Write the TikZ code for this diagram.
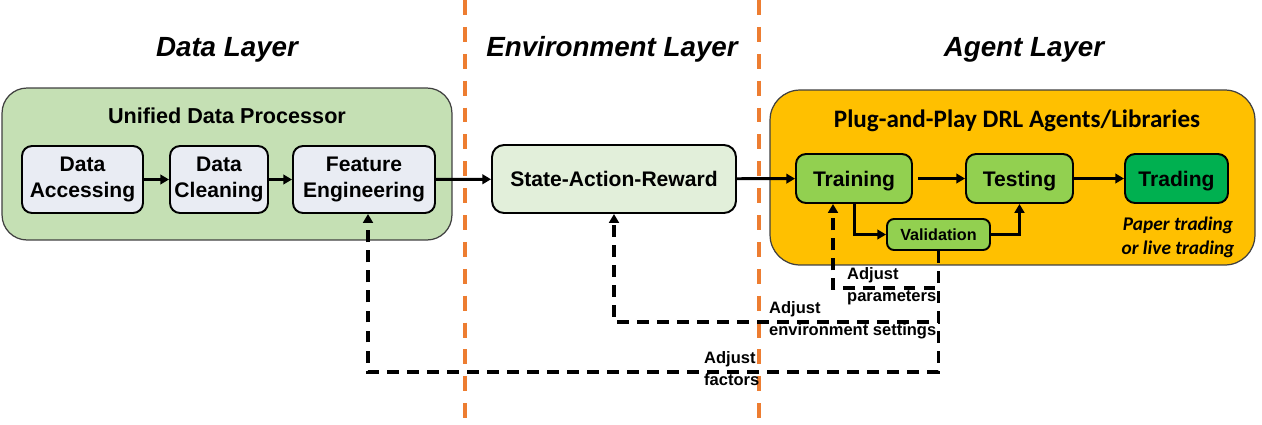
\documentclass[tikz,border=0pt]{standalone}
\usepackage{fontspec}
\setmainfont{Liberation Sans}
\newfontfamily\carlito{Carlito}
\usetikzlibrary{arrows.meta}
\definecolor{LayerOrange}{HTML}{ED7D31}
\definecolor{DataGreen}{HTML}{C5E0B4}
\definecolor{StepGray}{HTML}{E9ECF3}
\definecolor{EnvGreen}{HTML}{E2EFDA}
\definecolor{AgentGold}{HTML}{FFC000}
\definecolor{AgentGreen}{HTML}{92D050}
\definecolor{TradeGreen}{HTML}{00B050}

\begin{document}
\begin{tikzpicture}[x=0.02cm,y=-0.02cm,
  >={Triangle[length=5pt,width=5.5pt]},
  layertitle/.style={anchor=base,font=\fontsize{15.8}{19}\selectfont\bfseries\itshape},
  panel/.style={draw=black!75,line width=0.7pt,rounded corners=0.5cm},
  stepbox/.style={draw,line width=1.1pt,rounded corners=0.2cm,align=center,inner sep=2pt,
    font=\fontsize{12}{14.7}\selectfont\bfseries},
  oneline/.style={text depth=0pt},
  flow/.style={->,line width=1.7pt},
  feedback/.style={->,line width=1.9pt,dash pattern=on 6.8pt off 4.6pt},
  adjust/.style={anchor=west,align=left,font=\fontsize{9.4}{12.5}\selectfont\bfseries},
  layerline/.style={LayerOrange,line width=2pt,dash pattern=on 8.5pt off 6.8pt}]
  \useasboundingbox (0,0) rectangle (1262,424);

  % layers
  \node[layertitle] (tData) at (227,56) {Data Layer};
  \node[layertitle] (tEnv) at (612,56) {Environment Layer};
  \node[layertitle] (tAgent) at (1024,56) {Agent Layer};
  \draw[layerline] (465,0) -- (465,424);
  \draw[layerline] (759,0) -- (759,424);

  % data layer
  \node[panel,fill=DataGreen,minimum width=9cm,minimum height=3.04cm] (dataPanel) at (227,164) {};
  \node[anchor=base,font=\fontsize{12.3}{14}\selectfont\bfseries] (udp) at (227,123) {Unified Data Processor};
  \node[stepbox,fill=StepGray,minimum width=2.42cm,minimum height=1.34cm] (access) at (82.5,179.5) {Data\\Accessing};
  \node[stepbox,fill=StepGray,minimum width=1.96cm,minimum height=1.34cm] (clean) at (219,179.5) {Data\\Cleaning};
  \node[stepbox,fill=StepGray,minimum width=2.84cm,minimum height=1.34cm] (feature) at (364,179.5) {Feature\\Engineering};

  % environment layer
  \node[stepbox,oneline,fill=EnvGreen,rounded corners=0.24cm,minimum width=4.88cm,minimum height=1.36cm] (sar) at (614,179) {State-Action-Reward};

  % agent layer
  \node[panel,fill=AgentGold,rounded corners=0.6cm,minimum width=9.7cm,minimum height=3.5cm] (agentPanel) at (1012.5,177.5) {};
  \node[anchor=base,font=\carlito\fontsize{14.3}{17}\selectfont\bfseries] (drl) at (1017,127) {Plug-and-Play DRL Agents/Libraries};
  \node[stepbox,oneline,fill=AgentGreen,minimum width=2.32cm,minimum height=0.98cm] (train) at (854,178.5) {Training};
  \node[stepbox,oneline,fill=AgentGreen,minimum width=2.14cm,minimum height=0.98cm] (test) at (1019.5,178.5) {Testing};
  \node[stepbox,oneline,fill=TradeGreen,minimum width=2.06cm,minimum height=0.98cm] (trade) at (1176.5,178.5) {Trading};
  \node[stepbox,oneline,fill=AgentGreen,rounded corners=0.14cm,minimum width=2.06cm,minimum height=0.62cm,
    font=\fontsize{9.2}{11}\selectfont\bfseries] (valid) at (938.5,234.5) {Validation};
  \node[align=center,font=\carlito\fontsize{11}{13.6}\selectfont\bfseries\itshape] (paper) at (1178,237)
    {Paper trading\\or live trading};

  % forward flow
  \draw[flow] (access) -- (clean);
  \draw[flow] (clean) -- (feature);
  \draw[flow] (feature) -- (sar);
  \draw[flow] (sar) -- (train);
  \draw[flow,shorten <=3pt] (train) -- (test);
  \draw[flow] (test) -- (trade);
  \draw[flow] (train.south) |- (valid.west);
  \draw[flow] (valid.east) -| (test.south);

  % feedback loops
  \coordinate (paramTurn) at (833,288);
  \coordinate (envTurn) at (614,322);
  \coordinate (factorTurn) at (368,372);
  \draw[feedback] (valid.south) |- (paramTurn) -- (paramTurn |- train.south);
  \draw[feedback] (valid.south) |- (envTurn) -- (sar.south);
  \draw[feedback] (valid.south) |- (factorTurn) -- (factorTurn |- feature.south);
  \node[adjust] (adjParam) at (841,286) {Adjust\\parameters};
  \node[adjust] (adjEnv) at (763,320) {Adjust\\environment settings};
  \node[adjust] (adjFactor) at (698,369) {Adjust\\factors};
\end{tikzpicture}
\end{document}
